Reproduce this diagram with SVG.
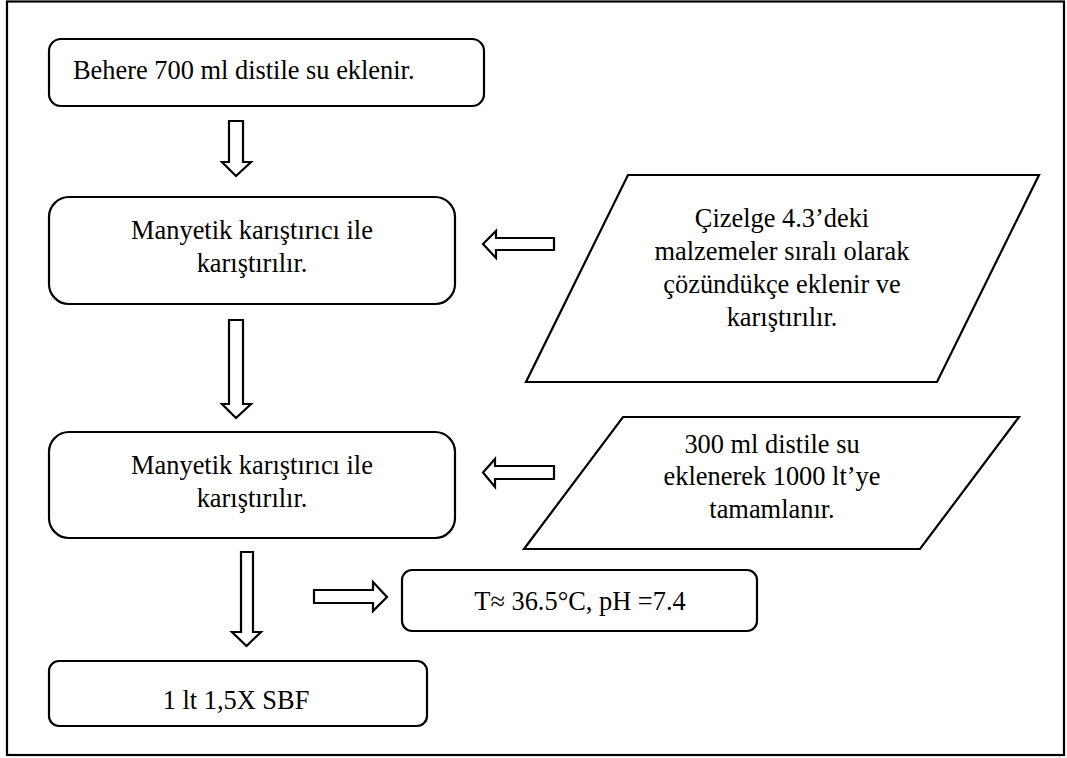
<svg xmlns="http://www.w3.org/2000/svg" width="1067" height="758" viewBox="0 0 1067 758">
<style>
.box{fill:#fff;stroke:#000;stroke-width:2.2}
.arr{fill:#fff;stroke:#000;stroke-width:2.2;stroke-linejoin:miter}
.t{font-family:"Liberation Serif","Times New Roman",serif;font-size:26.4px;fill:#000}
.c{text-anchor:middle}
</style>
<rect x="0" y="0" width="1067" height="758" fill="#fff"/>
<rect x="7" y="1.5" width="1057" height="753.5" fill="none" stroke="#000" stroke-width="2.2"/>
<g id="n1">
<rect class="box" x="49" y="39" width="435" height="67" rx="12"/>
<text class="t" x="73" y="79">Behere 700 ml distile su eklenir.</text>
</g>
<g id="n2">
<rect class="box" x="49" y="197" width="406" height="107" rx="20"/>
<text class="t c" x="252" y="239">Manyetik karıştırıcı ile</text>
<text class="t c" x="252" y="272">karıştırılır.</text>
</g>
<g id="n3">
<polygon class="box" points="628,175 1039,175 937,382 526,382"/>
<text class="t c" x="782" y="227">Çizelge 4.3’deki</text>
<text class="t c" x="782" y="260">malzemeler sıralı olarak</text>
<text class="t c" x="782" y="293">çözündükçe eklenir ve</text>
<text class="t c" x="782" y="326">karıştırılır.</text>
</g>
<g id="n4">
<rect class="box" x="49" y="432" width="406" height="106" rx="20"/>
<text class="t c" x="252" y="474">Manyetik karıştırıcı ile</text>
<text class="t c" x="252" y="507">karıştırılır.</text>
</g>
<g id="n5">
<polygon class="box" points="623,417 1019,417 920,549 524,549"/>
<text class="t c" x="772" y="453">300 ml distile su</text>
<text class="t c" x="772" y="485">eklenerek 1000 lt’ye</text>
<text class="t c" x="772" y="518">tamamlanır.</text>
</g>
<g id="n6">
<rect class="box" x="402" y="570" width="355" height="61" rx="10"/>
<text class="t c" x="580" y="610">T≈ 36.5°C, pH =7.4</text>
</g>
<g id="n7">
<rect class="box" x="49" y="661" width="378" height="65" rx="10"/>
<text class="t c" x="236" y="709">1 lt 1,5X SBF</text>
</g>
<g id="connectors">
<polygon class="arr" points="229,121 243,121 243,162 251,162 236,176 222,162 229,162"/>
<polygon class="arr" points="229,320 243,320 243,404 251,404 236,418 222,404 229,404"/>
<polygon class="arr" points="241,552 253,552 253,632 261,632 246.5,646 232,632 241,632"/>
<polygon class="arr" points="554,238 554,250 496,250 496,258 483,244 496,231 496,238"/>
<polygon class="arr" points="554,466 554,479 495,479 495,487 483,472.5 495,459 495,466"/>
<polygon class="arr" points="314,590 373,590 373,582 387,597 373,611 373,603 314,603"/>
</g>
</svg>
